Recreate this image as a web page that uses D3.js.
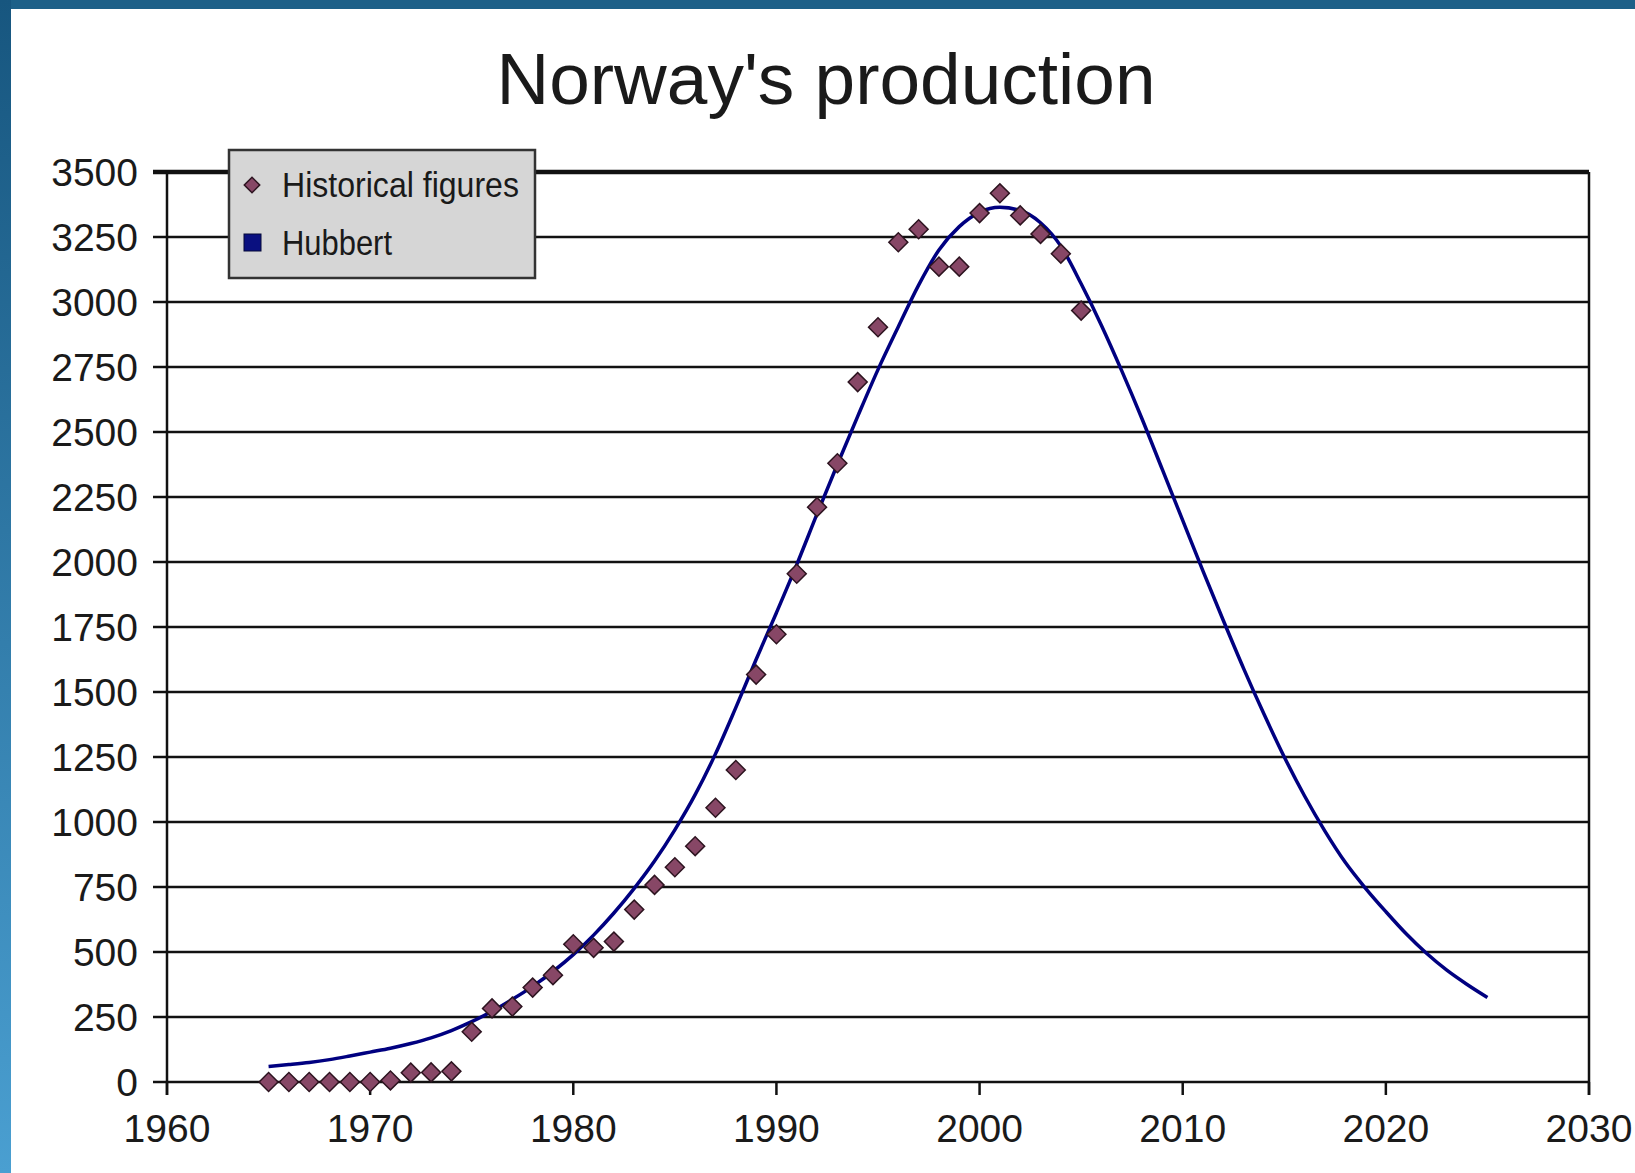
<!DOCTYPE html>
<html lang="en">
<head>
  <meta charset="UTF-8">
  <title>Norway's production</title>
  <script src="https://d3js.org/d3.v7.min.js"></script>
  <style>
    body {
      margin: 0;
      padding: 0;
      background: #fff;
    }
    text {
      font-family: "Liberation Sans", Arial, sans-serif;
      fill: #1a1a1a;
    }
  </style>
</head>
<body>

  <div id="chart"></div>

  <script>
    // historical figures, one point a year
    const histYears = d3.range(1965, 2006);
    const histValues = [
      0, 0, 0, 0, 0, 0, 6, 36, 37, 41,
      193, 283, 290, 363, 411, 530, 516, 540, 663, 758,
      826, 907, 1055, 1200, 1567, 1722, 1955, 2211, 2380, 2692,
      2903, 3230, 3280, 3136, 3136, 3342, 3418, 3333, 3262, 3186,
      2967
    ];

    // Hubbert curve
    const hubbertYears = d3.range(1965, 2026);
    const hubbertValues = [
      60, 67, 75, 86, 100, 115, 130, 148, 170, 198,
      232, 272, 318, 368, 425, 490, 565, 650, 745, 850,
      970, 1105, 1262, 1440, 1625, 1805, 1990, 2185, 2375, 2560,
      2740, 2905, 3065, 3200, 3290, 3345, 3364, 3352, 3305, 3215,
      3070, 2910, 2735, 2550, 2355, 2160, 1965, 1775, 1590, 1415,
      1250, 1100, 965, 845, 745, 655, 570, 495, 430, 375,
      325
    ];

    const xTicks = [1960, 1970, 1980, 1990, 2000, 2010, 2020, 2030];
    const yTicks = d3.range(0, 3501, 250);

    const seriesNames = ["Historical figures", "Hubbert"];

    const width = 1635;
    const height = 1173;
    const plotLeft = 167, plotRight = 1589, plotTop = 172, plotBottom = 1082;

    const svg = d3.select("#chart")
      .append("svg")
      .attr("width", width)
      .attr("height", height);

    // blue frame of the slide
    const defs = svg.append("defs");
    const grad = defs.append("linearGradient")
      .attr("id", "sideGrad")
      .attr("x1", 0).attr("y1", 0).attr("x2", 0).attr("y2", 1);
    grad.append("stop").attr("offset", "0%").attr("stop-color", "#17567f");
    grad.append("stop").attr("offset", "100%").attr("stop-color", "#4a9fd1");

    svg.append("rect").attr("width", width).attr("height", height).attr("fill", "#fff");
    svg.append("rect").attr("x", 0).attr("y", 0).attr("width", width).attr("height", 9)
      .attr("fill", "#1d6088");
    svg.append("rect").attr("x", 0).attr("y", 0).attr("width", 11).attr("height", height)
      .attr("fill", "url(#sideGrad)");

    const x = d3.scaleLinear().domain([1960, 2030]).range([plotLeft, plotRight]);
    const y = d3.scaleLinear().domain([0, 3500]).range([plotBottom, plotTop]);

    // title
    svg.append("text")
      .attr("x", 826)
      .attr("y", 104)
      .attr("text-anchor", "middle")
      .style("font-size", "73px")
      .text("Norway's production");

    // horizontal gridlines with their ticks
    svg.append("g")
      .selectAll("line")
      .data(yTicks)
      .enter()
      .append("line")
      .attr("x1", plotLeft - 14)
      .attr("x2", plotRight)
      .attr("y1", d => y(d))
      .attr("y2", d => y(d))
      .attr("stroke", "#111")
      .attr("stroke-width", d => d === 3500 ? 4.5 : 2.5);

    // vertical axis and right border
    svg.append("line")
      .attr("x1", plotLeft).attr("x2", plotLeft)
      .attr("y1", plotTop).attr("y2", plotBottom + 13)
      .attr("stroke", "#111").attr("stroke-width", 2.5);
    svg.append("line")
      .attr("x1", plotRight).attr("x2", plotRight)
      .attr("y1", plotTop).attr("y2", plotBottom + 13)
      .attr("stroke", "#111").attr("stroke-width", 2.5);

    // x ticks
    svg.append("g")
      .selectAll("line")
      .data(xTicks)
      .enter()
      .append("line")
      .attr("x1", d => x(d)).attr("x2", d => x(d))
      .attr("y1", plotBottom).attr("y2", plotBottom + 13)
      .attr("stroke", "#111").attr("stroke-width", 2.5);

    // tick labels
    svg.append("g")
      .selectAll("text")
      .data(yTicks)
      .enter()
      .append("text")
      .attr("x", 138)
      .attr("y", d => y(d))
      .attr("dy", "0.36em")
      .attr("text-anchor", "end")
      .style("font-size", "39px")
      .text(d => d);

    svg.append("g")
      .selectAll("text")
      .data(xTicks)
      .enter()
      .append("text")
      .attr("x", d => x(d))
      .attr("y", 1142)
      .attr("text-anchor", "middle")
      .style("font-size", "39px")
      .text(d => d);

    // Hubbert curve
    const hubbert = hubbertYears.map((yr, i) => [yr, hubbertValues[i]]);
    svg.append("path")
      .datum(hubbert)
      .attr("fill", "none")
      .attr("stroke", "#000080")
      .attr("stroke-width", 3.5)
      .attr("d", d3.line()
        .curve(d3.curveMonotoneX)
        .x(d => x(d[0]))
        .y(d => y(d[1])));

    // historical points
    const diamond = d3.symbol().type(d3.symbolSquare).size(180);
    svg.append("g")
      .selectAll("path")
      .data(histYears.map((yr, i) => [yr, histValues[i]]))
      .enter()
      .append("path")
      .attr("d", diamond)
      .attr("transform", d => `translate(${x(d[0])},${y(d[1])}) rotate(45)`)
      .attr("fill", "#874766")
      .attr("stroke", "#2d1420")
      .attr("stroke-width", 1.5);

    // legend
    const legend = svg.append("g");
    legend.append("rect")
      .attr("x", 229).attr("y", 150)
      .attr("width", 306).attr("height", 128)
      .attr("fill", "#d6d6d6")
      .attr("stroke", "#333")
      .attr("stroke-width", 2.5);

    legend.append("path")
      .attr("d", d3.symbol().type(d3.symbolSquare).size(120))
      .attr("transform", "translate(252,185) rotate(45)")
      .attr("fill", "#874766")
      .attr("stroke", "#2d1420")
      .attr("stroke-width", 1.5);

    legend.append("rect")
      .attr("x", 244).attr("y", 234)
      .attr("width", 17).attr("height", 17)
      .attr("fill", "#0a1080")
      .attr("stroke", "#050838")
      .attr("stroke-width", 1);

    legend.selectAll("text")
      .data(seriesNames)
      .enter()
      .append("text")
      .attr("x", 282)
      .attr("y", (d, i) => i === 0 ? 197 : 255)
      .attr("textLength", (d, i) => i === 0 ? 237 : 110)
      .attr("lengthAdjust", "spacingAndGlyphs")
      .style("font-size", "35px")
      .text(d => d);
  </script>

</body>
</html>
